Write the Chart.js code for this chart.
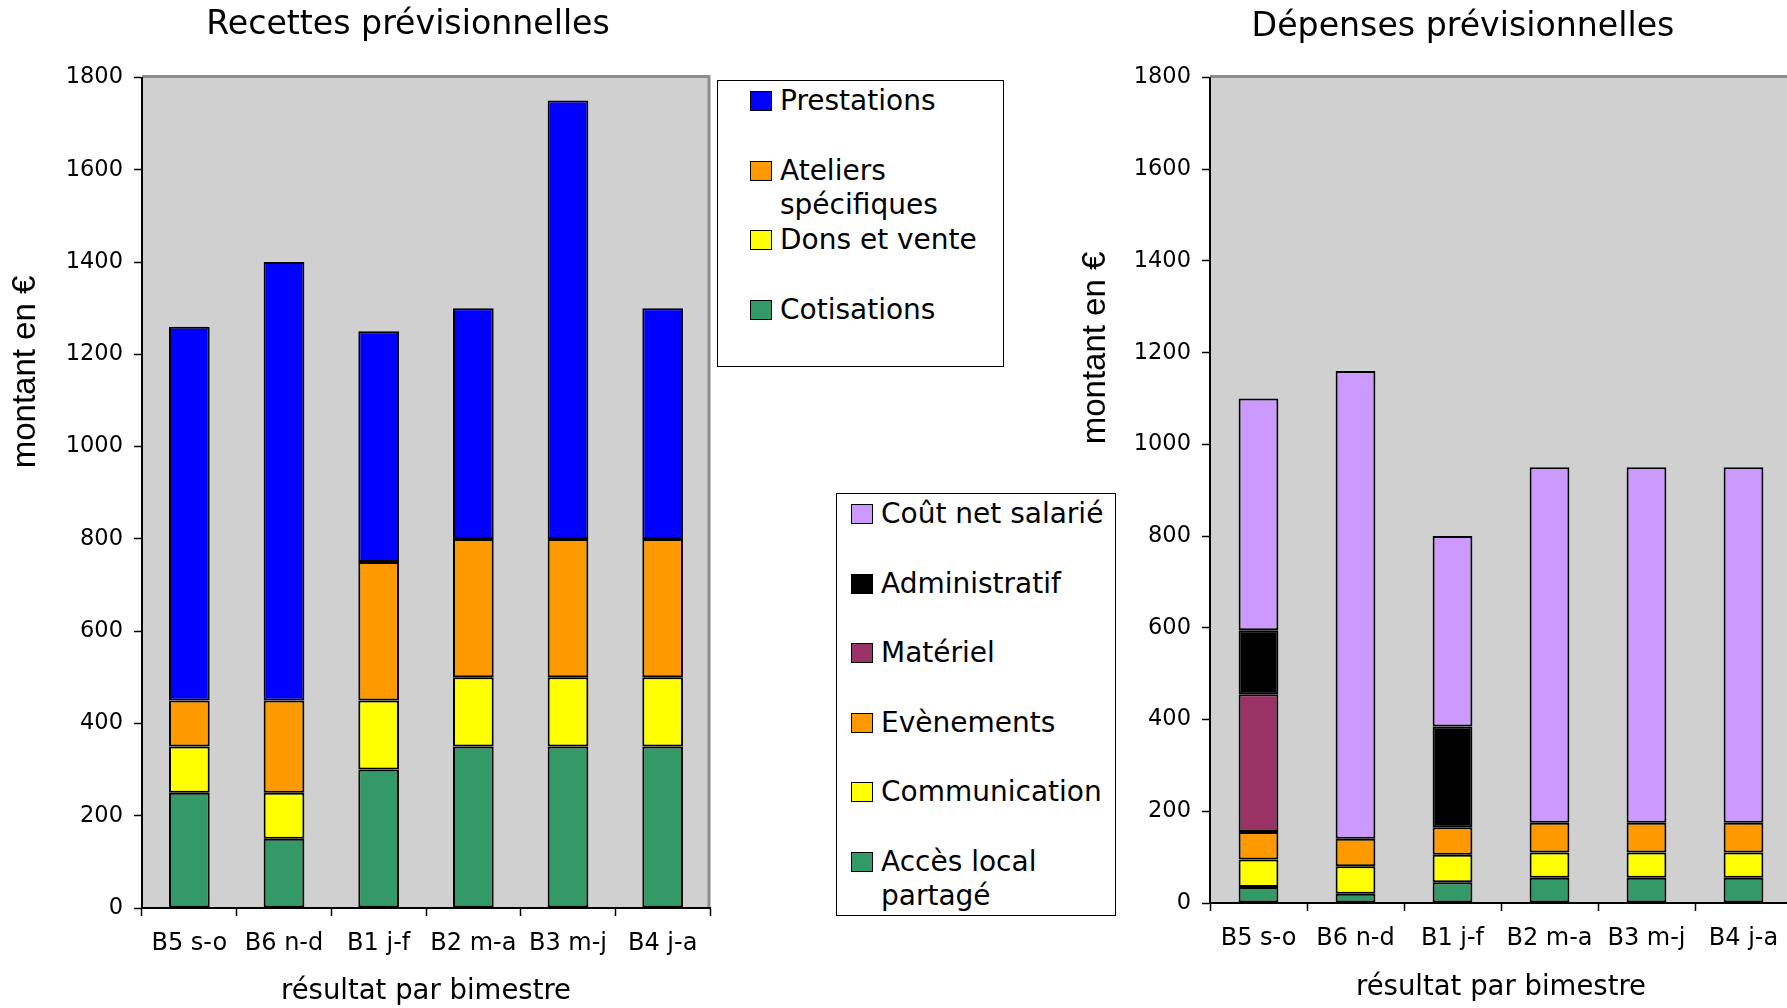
<!DOCTYPE html>
<html>
<head>
<meta charset="utf-8">
<script src="https://cdn.jsdelivr.net/npm/chart.js@4"></script>
<style>
  html, body { margin: 0; padding: 0; background: #fff; overflow: hidden; }
  body { width: 1787px; height: 1008px; position: relative; }
  .wrap { position: absolute; top: 0; height: 1008px; }
  .legend {
    position: absolute; background: #fff; border: 1.5px solid #000; box-sizing: border-box;
    font-family: "DejaVu Sans", Verdana, sans-serif; font-size: 28px; color: #000;
  }
  .legend .item { position: absolute; display: flex; align-items: flex-start; line-height: 34px; white-space: nowrap; }
  .legend .sw { width: 22px; height: 20px; border: 1.5px solid #000; box-sizing: border-box; margin-top: 7px; margin-right: 8px; flex: none; }
</style>
</head>
<body>
<div class="wrap" style="left:0;width:715px"><canvas id="recettes"></canvas></div>
<div class="wrap" style="left:1080px;width:720px"><canvas id="depenses"></canvas></div>
<div class="legend" id="legRecettes" style="left:717px;top:80px;width:287px;height:287px"></div>
<div class="legend" id="legDepenses" style="left:836px;top:493px;width:280px;height:423px"></div>
<script>
// Categories (bimestres)
const bimestres = ['B5 s-o', 'B6 n-d', 'B1 j-f', 'B2 m-a', 'B3 m-j', 'B4 j-a'];

// Recettes (stacked bottom to top)
const cotisations = [250, 150, 300, 350, 350, 350];
const donsVente = [100, 100, 150, 150, 150, 150];
const ateliers = [100, 200, 300, 300, 300, 300];
const prestations = [810, 950, 500, 500, 950, 500];

// Dépenses (stacked bottom to top)
const accesLocal = [35, 20, 45, 55, 55, 55];
const communication = [60, 60, 60, 55, 55, 55];
const evenements = [60, 60, 60, 65, 65, 65];
const materiel = [300, 0, 0, 0, 0, 0];
const administratif = [140, 0, 220, 0, 0, 0];
const coutSalarie = [505, 1020, 415, 775, 775, 775];

const yTicks = [0, 200, 400, 600, 800, 1000, 1200, 1400, 1600, 1800];

const C = {
  blue: '#0000ff', orange: '#ff9900', yellow: '#ffff00', green: '#339966',
  purple: '#cc99ff', black: '#000000', maroon: '#993366'
};

const recettesSeries = [
  { label: 'Cotisations', data: cotisations, color: C.green },
  { label: 'Dons et vente', data: donsVente, color: C.yellow },
  { label: ['Ateliers', 'spécifiques'], data: ateliers, color: C.orange },
  { label: 'Prestations', data: prestations, color: C.blue }
];
const depensesSeries = [
  { label: ['Accès local', 'partagé'], data: accesLocal, color: C.green },
  { label: 'Communication', data: communication, color: C.yellow },
  { label: 'Evènements', data: evenements, color: C.orange },
  { label: 'Matériel', data: materiel, color: C.maroon },
  { label: 'Administratif', data: administratif, color: C.black },
  { label: 'Coût net salarié', data: coutSalarie, color: C.purple }
];

const FONT = '"DejaVu Sans", Verdana, sans-serif';

// plot background + grey frame, chart title and rotated y title placed freely
const plotFrame = {
  id: 'plotFrame',
  beforeDraw(chart) {
    const { ctx, chartArea: a } = chart;
    ctx.save();
    ctx.fillStyle = '#d0d0d0';
    ctx.fillRect(a.left, a.top, a.right - a.left, a.bottom - a.top);
    ctx.strokeStyle = '#8c8c8c';
    ctx.lineWidth = 3;
    ctx.beginPath();
    ctx.moveTo(a.left, a.top - 1);
    ctx.lineTo(a.right - 1, a.top - 1);
    ctx.lineTo(a.right - 1, a.bottom);
    ctx.stroke();
    ctx.restore();
  },
  afterDraw(chart, args, opts) {
    const { ctx } = chart;
    ctx.save();
    ctx.fillStyle = '#000';
    ctx.textAlign = 'center';
    ctx.textBaseline = 'middle';
    ctx.font = '33.2px ' + FONT;
    ctx.fillText(opts.title, opts.titleX, opts.titleY);
    ctx.translate(opts.x, opts.y);
    ctx.rotate(-Math.PI / 2);
    ctx.font = '33px "Liberation Sans", Arial, sans-serif';
    ctx.fillText(opts.text, 0, 0);
    ctx.restore();
  }
};

function makeChart(id, series, opt) {
  return new Chart(document.getElementById(id), {
    type: 'bar',
    data: {
      labels: bimestres,
      datasets: series.map(s => ({
        label: Array.isArray(s.label) ? s.label.join(' ') : s.label,
        data: s.data,
        backgroundColor: s.color,
        borderColor: '#000',
        borderWidth: 2,
        borderSkipped: false,
        barPercentage: opt.barPct,
        categoryPercentage: 1
      }))
    },
    plugins: [plotFrame],
    options: {
      responsive: true,
      maintainAspectRatio: false,
      animation: false,
      layout: { padding: { left: 0, right: opt.padRight, top: 77.5, bottom: 0 } },
      plugins: {
        legend: { display: false },
        tooltip: { enabled: false },
        title: { display: false },
        plotFrame: opt.titles
      },
      scales: {
        x: {
          stacked: true,
          border: { color: '#000', width: 2 },
          grid: { display: true, drawOnChartArea: false, color: '#000', tickLength: 8, tickWidth: 1.5, offset: true },
          ticks: { color: '#000', padding: 13, font: { family: FONT, size: 24 }, maxRotation: 0 },
          title: {
            display: true, text: 'résultat par bimestre', color: '#000',
            font: { family: FONT, size: 27.5 },
            padding: { top: 0, bottom: opt.xTitleBottom }
          },
          afterFit(scale) { scale.height = opt.xHeight; }
        },
        y: {
          stacked: true,
          min: 0, max: 1800,
          afterBuildTicks(scale) { scale.ticks = yTicks.map(v => ({ value: v })); },
          border: { color: '#000', width: 2 },
          grid: { display: true, drawOnChartArea: false, color: '#000', tickLength: 8, tickWidth: 1.5 },
          ticks: {
            color: '#000', padding: 11, font: { family: FONT, size: 22.5 },
            callback: v => String(v)
          },
          afterFit(scale) { scale.width = opt.yWidth; }
        }
      }
    }
  });
}

const recChart = makeChart('recettes', recettesSeries, {
  barPct: 0.43, yWidth: 142, xHeight: 100, xTitleBottom: 0, padRight: 5,
  titles: { title: 'Recettes prévisionnelles', titleX: 408, titleY: 25, text: 'montant en €', x: 26, y: 372 }
});
const depChart = makeChart('depenses', depensesSeries, {
  barPct: 0.41, yWidth: 130, xHeight: 105, xTitleBottom: 3.5, padRight: 8,
  titles: { title: 'Dépenses prévisionnelles', titleX: 383, titleY: 27, text: 'montant en €', x: 16, y: 348 }
});

// legends built from the series, top entry first
function buildLegend(el, series) {
  const box = document.getElementById(el);
  series.slice().reverse().forEach((s, i) => {
    const item = document.createElement('div');
    item.className = 'item';
    item.style.top = (3 + i * 69.5) + 'px';
    item.style.left = (el === 'legRecettes' ? 32 : 14) + 'px';
    const sw = document.createElement('div');
    sw.className = 'sw';
    sw.style.background = s.color;
    const txt = document.createElement('div');
    txt.innerHTML = (Array.isArray(s.label) ? s.label : [s.label]).join('<br>');
    item.appendChild(sw);
    item.appendChild(txt);
    box.appendChild(item);
  });
}
buildLegend('legRecettes', recettesSeries);
buildLegend('legDepenses', depensesSeries);
</script>
</body>
</html>
